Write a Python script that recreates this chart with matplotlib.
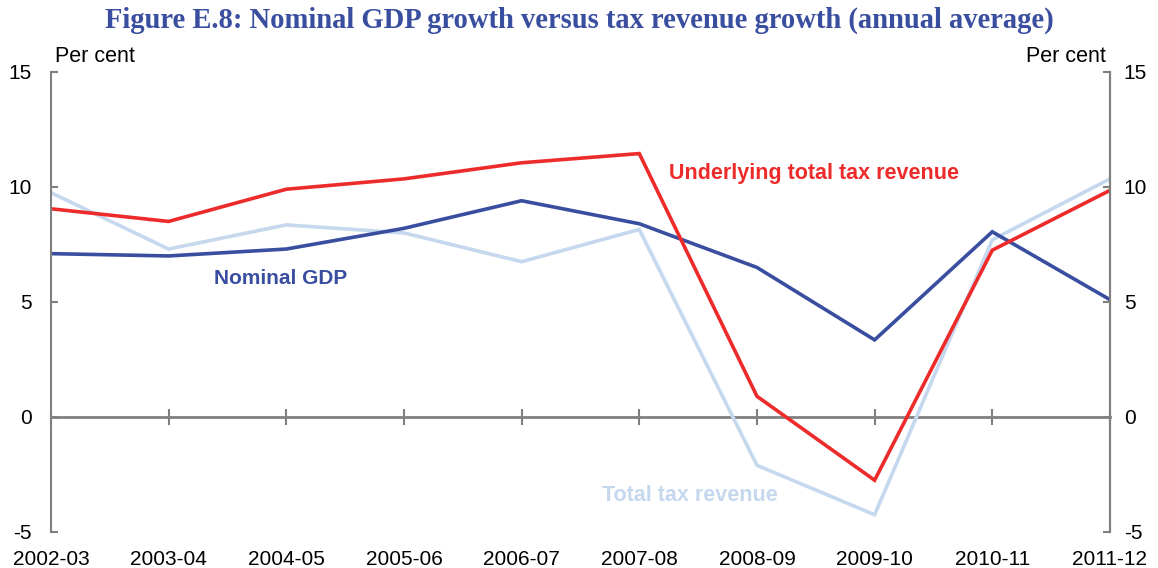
import matplotlib.pyplot as plt

# Data
years = ['2002-03', '2003-04', '2004-05', '2005-06', '2006-07',
         '2007-08', '2008-09', '2009-10', '2010-11', '2011-12']
nominal_gdp = [7.1, 7.0, 7.3, 8.2, 9.4, 8.4, 6.5, 3.35, 8.05, 5.1]
underlying_tax = [9.05, 8.5, 9.9, 10.35, 11.05, 11.45, 0.9, -2.75, 7.25, 9.85]
total_tax = [9.75, 7.3, 8.35, 8.0, 6.75, 8.15, -2.1, -4.25, 7.7, 10.35]
yticks = [-5, 0, 5, 10, 15]

dark_blue = '#3a4ea0'
red = '#ee2b2b'
light_blue = '#c5d8ee'
grey = '#808080'

plt.rcParams['font.family'] = ['Liberation Sans', 'DejaVu Sans']

fig = plt.figure(figsize=(11.58, 5.68), dpi=100)
ax = fig.add_axes([0.044, 0.0634, 0.9145, 0.81])

x = list(range(len(years)))
ax.plot(x, total_tax, color=light_blue, lw=2.6, solid_joinstyle='miter')
ax.plot(x, nominal_gdp, color=dark_blue, lw=2.6, solid_joinstyle='miter')
ax.plot(x, underlying_tax, color=red, lw=2.6, solid_joinstyle='miter')

ax.set_xlim(0, len(years) - 1)
ax.set_ylim(-5, 15)
ax.set_yticks(yticks)
ax.set_yticklabels([str(v) for v in yticks], fontsize=15)
ax.tick_params(axis='y', direction='in', length=5, color=grey, width=1.5, pad=14)
ax.set_xticks(x)
ax.set_xticklabels(years, fontsize=15)
ax.tick_params(axis='x', length=0, pad=13)

for side in ['top', 'bottom']:
    ax.spines[side].set_visible(False)
for side in ['left', 'right']:
    ax.spines[side].set_color(grey)
    ax.spines[side].set_linewidth(1.5)

# zero line with category ticks
zero = ax.secondary_xaxis(0.25)
zero.set_xticks(x)
zero.set_xticklabels([])
zero.tick_params(direction='inout', length=12, color=grey, width=1.5)
zero.spines['bottom'].set_color(grey)
zero.spines['bottom'].set_linewidth(2)

ax2 = ax.twinx()
ax2.set_ylim(-5, 15)
ax2.set_yticks(yticks)
ax2.set_yticklabels([str(v) for v in yticks], fontsize=15)
ax2.tick_params(axis='y', direction='in', length=5, color=grey, width=1.5, pad=10)
for side in ['top', 'bottom', 'left']:
    ax2.spines[side].set_visible(False)
ax2.spines['right'].set_color(grey)
ax2.spines['right'].set_linewidth(1.5)

ax.text(0.004, 1.01, 'Per cent', transform=ax.transAxes, fontsize=15.5,
        ha='left', va='bottom')
ax.text(0.996, 1.01, 'Per cent', transform=ax.transAxes, fontsize=15.5,
        ha='right', va='bottom')

ax.text(5.25, 10.6, 'Underlying total tax revenue', color=red, fontsize=15.5,
        fontweight='bold', ha='left', va='center')
ax.text(1.95, 6.0, 'Nominal GDP', color=dark_blue, fontsize=15,
        fontweight='bold', ha='center', va='center')
ax.text(5.43, -3.4, 'Total tax revenue', color=light_blue, fontsize=15.5,
        fontweight='bold', ha='center', va='center')

fig.text(0.5, 0.965, 'Figure E.8: Nominal GDP growth versus tax revenue growth (annual average)',
         family='Liberation Serif', fontweight='bold', fontsize=20.6,
         color=dark_blue, ha='center', va='center')

fig.savefig('out.png', dpi=100)
